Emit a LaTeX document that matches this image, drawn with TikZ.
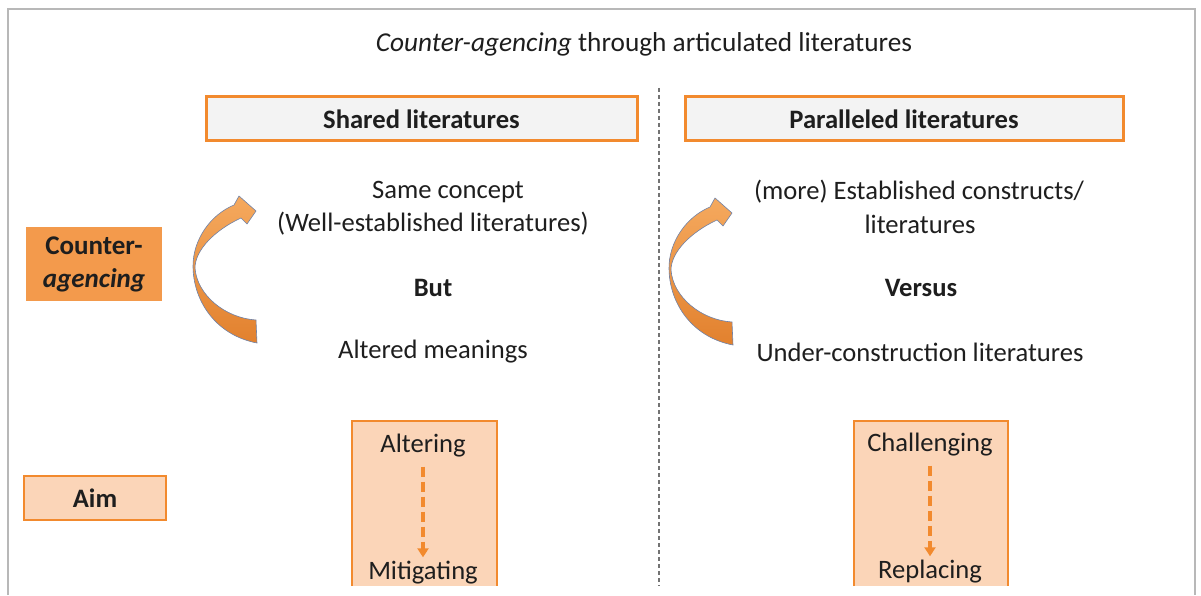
\documentclass[tikz,border=0pt]{standalone}
\usepackage{fontspec}
\setmainfont{Carlito}
\usetikzlibrary{arrows.meta}
\definecolor{orangeline}{HTML}{F28A2E}
\definecolor{orangefill}{HTML}{F39A4C}
\definecolor{arrowtop}{HTML}{F5A95E}
\definecolor{arrowbot}{HTML}{E2812E}
\definecolor{peach}{HTML}{FBD5B8}
\definecolor{boxgray}{HTML}{F3F3F3}
\definecolor{txt}{HTML}{1E1E1E}
\definecolor{arrowedge}{HTML}{6F82A8}
\tikzset{
  every node/.style={font=\fontsize{26.6}{32}\selectfont, text=txt, inner sep=0pt},
  headbox/.style={draw=orangeline, line width=3pt, fill=boxgray, font=\fontsize{26.6}{32}\selectfont\bfseries},
  labelbox/.style={fill=orangefill, align=center, font=\fontsize{27}{33}\selectfont\bfseries},
  aimbox/.style={draw=orangeline, line width=2.5pt, fill=peach, font=\fontsize{26.6}{32}\selectfont\bfseries},
  strong/.style={font=\fontsize{26.6}{32}\selectfont\bfseries},
  dasharrow/.style={draw=orangeline, line width=3.2pt, dash pattern=on 10pt off 5pt, -{Triangle[width=11pt,length=9pt]}},
  sep/.style={draw=black!55, line width=1.3pt, dash pattern=on 4pt off 3pt},
  arrowfill/.style={top color=arrowtop, bottom color=arrowbot, draw=arrowedge, line width=0.6pt},
  curvarrow/.pic={
    \path[arrowfill] (64,77) .. controls (22,69) and (0,34) .. (0,0)
      .. controls (0,-26) and (17,-51) .. (41,-61)
      -- (46,-70) -- (63,-55) -- (54,-42) -- (48,-48)
      .. controls (22,-36) and (2,-16) .. (2,2)
      .. controls (4,29) and (32,52) .. (63,54) -- cycle;
  }
}
\begin{document}
\begin{tikzpicture}[x=1pt,y=-1pt]
\useasboundingbox (0,0) rectangle (1201,596);
% frame
\draw[black!28, line width=1.6pt] (8,595) -- (8,9) -- (1195,9) -- (1195,595);
% title
\node[font=\fontsize{27.3}{32}\selectfont] (title) at (644,44) {\textit{Counter-agencing} through articulated literatures};
% separator
\coordinate (septop) at (659,88);
\coordinate (sepbot) at (659,586);
\draw[sep] (septop) -- (sepbot);
% header boxes
\node[headbox, minimum width=431pt, minimum height=44pt] (shared) at (421.5,119) {Shared literatures};
\node[headbox, minimum width=438pt, minimum height=44pt] (paral) at (904,119) {Paralleled literatures};
% left labels
\node[labelbox, minimum width=136pt, minimum height=74pt] (ca) at (94,264) {Counter-\\\textit{agencing}};
\node[aimbox, minimum width=142pt, minimum height=44pt] (aim) at (95,498) {Aim};
% left column text
\node (same) at (448,192) {Same concept};
\node (well) at (433,224) {(Well-established literatures)};
\node[strong] (but) at (433,288) {But};
\node (altm) at (433,352) {Altered meanings};
% right column text
\node (estab) at (919,192) {(more) Established constructs/};
\node (lit) at (920,224) {literatures};
\node[strong] (versus) at (921,288) {Versus};
\node (under) at (920,352) {Under-construction literatures};
% curved arrows
\pic at (193,266) {curvarrow};
\pic at (669,268) {curvarrow};
% aim boxes (open at bottom)
\fill[peach] (352,421) rectangle (497,586);
\draw[orangeline, line width=2.5pt] (352,586) -- (352,421) -- (497,421) -- (497,586);
\fill[peach] (854,421) rectangle (1008,586);
\draw[orangeline, line width=2.5pt] (854,586) -- (854,421) -- (1008,421) -- (1008,586);
\node (alt) at (423,446) {Altering};
\node (mit) at (423,573) {Mitigating};
\node (chal) at (930,445) {Challenging};
\node (repl) at (930,572) {Replacing};
\draw[dasharrow, shorten <=9pt, shorten >=4pt] (alt.south) -- (mit.north);
\draw[dasharrow, shorten <=9pt, shorten >=4pt] (chal.south) -- (repl.north);
\end{tikzpicture}
\end{document}
